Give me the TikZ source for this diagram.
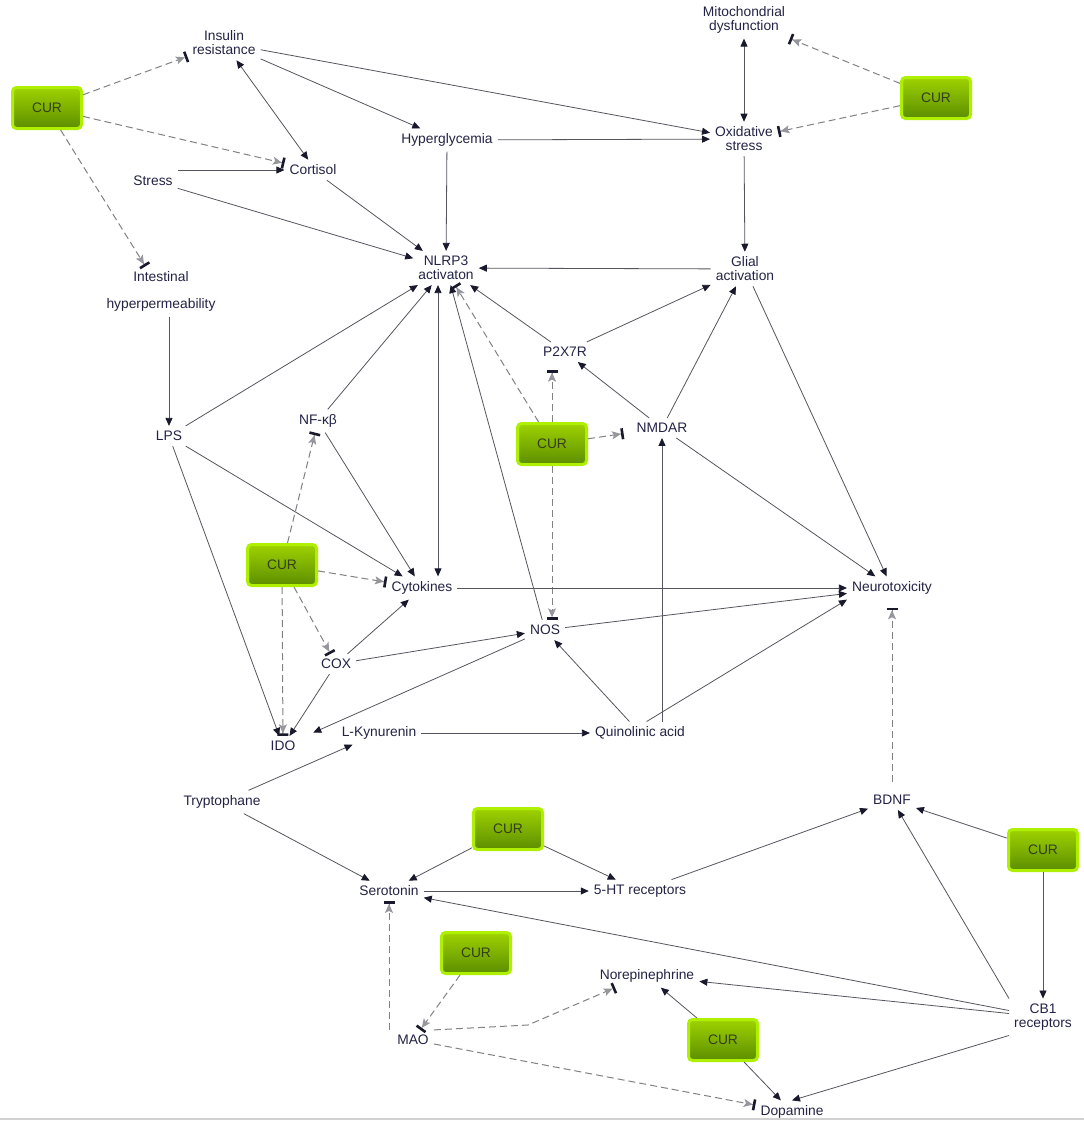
\documentclass[tikz,border=0pt]{standalone}
\usepackage{fontspec}
\setmainfont{Liberation Sans}
\usetikzlibrary{arrows.meta}
\definecolor{txt}{RGB}{35,35,70}
\definecolor{edgec}{RGB}{85,85,95}
\definecolor{tipc}{RGB}{25,25,45}
\definecolor{inhc}{RGB}{130,130,130}
\definecolor{inhtip}{RGB}{150,150,158}
\definecolor{curborder}{RGB}{175,240,0}
\definecolor{curtop}{RGB}{158,210,0}
\definecolor{curbot}{RGB}{92,142,0}
\definecolor{curtxt}{RGB}{52,62,28}
\begin{document}
\begin{tikzpicture}[x=1pt,y=-1pt,
  lbl/.style={font=\fontsize{13.8}{14}\selectfont, text=txt, align=center, inner sep=5pt},
  curbox/.style={draw=curborder, line width=3pt, rounded corners=4pt, top color=curtop, bottom color=curbot,
    minimum width=69pt, minimum height=41pt, inner sep=0pt, font=\fontsize{13.8}{14}\selectfont, text=curtxt},
  act/.style={draw=edgec, line width=0.8pt, -{Triangle[length=8pt,width=7pt,color=tipc]}},
  dbl/.style={draw=edgec, line width=0.8pt, {Triangle[length=8pt,width=7pt,color=tipc]}-{Triangle[length=8pt,width=7pt,color=tipc]}},
  inh/.style={draw=inhc, line width=1pt, dash pattern=on 7pt off 4pt,
    -{Stealth[length=9pt,width=8pt,inset=2pt,color=inhtip]Bar[width=11pt,line width=2.6pt,color=tipc]}},
]
\fill[white] (0,0) rectangle (1084,1125);
\useasboundingbox (0,0) rectangle (1084,1125);
\draw[black!18, line width=2pt] (0,1119) -- (1084,1119);

% CUR boxes
\node[curbox] (cur1) at (47,108) {CUR};
\node[curbox] (cur2) at (936,98) {CUR};
\node[curbox] (cur3) at (552,444) {CUR};
\node[curbox] (cur4) at (282,565) {CUR};
\node[curbox] (cur5) at (508,829) {CUR};
\node[curbox] (cur6) at (1043,850) {CUR};
\node[curbox] (cur7) at (476,953) {CUR};
\node[curbox] (cur8) at (723,1040) {CUR};

% labels
\node[lbl] (ins) at (224,43) {Insulin\\resistance};
\node[lbl] (mito) at (744,20) {Mitochondrial\\dysfunction};
\node[lbl] (hyp) at (447,140) {Hyperglycemia};
\node[lbl] (ox) at (744,139) {Oxidative\\stress};
\node[lbl] (cort) at (313,170) {Cortisol};
\node[lbl] (stress) at (153,181) {Stress};
\node[lbl] (nlrp) at (446,268) {NLRP3\\activaton};
\node[lbl] (glial) at (745,269) {Glial\\activation};
\node[lbl] (intest) at (161,291.5) {Intestinal\\[13pt]hyperpermeability};
\node[lbl] (p2x) at (565,352) {P2X7R};
\node[lbl] (nmdar) at (662,428) {NMDAR};
\node[lbl] (lps) at (169,436) {LPS};
\node[lbl] (nfkb) at (318,421) {NF-κβ};
\node[lbl] (cyto) at (422,588) {Cytokines};
\node[lbl] (neuro) at (892,588) {Neurotoxicity};
\node[lbl] (nos) at (545,630) {NOS};
\node[lbl] (cox) at (336,664) {COX};
\node[lbl] (ido) at (283,746) {IDO};
\node[lbl] (lkyn) at (379,733) {L-Kynurenin};
\node[lbl] (quin) at (640,733) {Quinolinic acid};
\node[lbl] (tryp) at (222,802) {Tryptophane};
\node[lbl] (bdnf) at (892,800) {BDNF};
\node[lbl] (sero) at (389,891) {Serotonin};
\node[lbl] (ht) at (640,891) {5-HT receptors};
\node[lbl] (nore) at (647,976) {Norepinephrine};
\node[lbl] (cb1) at (1043,1017) {CB1\\receptors};
\node[lbl] (mao) at (413,1040) {MAO};
\node[lbl] (dopa) at (792,1112) {Dopamine};
\coordinate (bend) at (528,1025);

% top region
\draw[inh] (cur1) -- (ins);
\draw[inh] (cur1) -- (cort);
\draw[inh] (cur1) -- (intest);
\draw[dbl] (ins) -- (cort.115);
\draw[act] (ins) -- (hyp);
\draw[act] (ins) -- (ox);
\draw[act] (hyp) -- (ox);
\draw[act] (hyp) -- (nlrp);
\draw[dbl] (mito) -- (ox);
\draw[inh] (cur2) -- (mito);
\draw[inh] (cur2) -- (ox);
\draw[act] (ox) -- (glial);
\draw[act] (stress.east |- cort.west) -- (cort.west);
\draw[act] (stress) -- (nlrp);
\draw[act] (cort) -- (nlrp);
\draw[act] (glial) -- (nlrp);
\draw[act] (lps |- intest.south) -- (lps);

% middle region
\draw[act] (lps) -- (nlrp);
\draw[act] (nfkb) -- (nlrp);
\draw[dbl] ([xshift=-8pt]nlrp.south) -- ([xshift=16pt]cyto.north);
\draw[act] (nos) -- (nlrp);
\draw[inh] (cur3) -- (nlrp.-62);
\draw[act] (p2x) -- (nlrp);
\draw[act] (p2x) -- (glial);
\draw[act] (nmdar) -- (p2x);
\draw[act] (nmdar) -- (glial);
\draw[inh, shorten >=8pt] (cur3.north) -- (cur3.north |- p2x.south);
\draw[inh, shorten >=8pt] (cur3) -- (nmdar);
\draw[inh] (cur3.south) -- (cur3.south |- nos.north);
\draw[act] (glial) -- (neuro);
\draw[act] (nmdar) -- (neuro);
\draw[act] (lps) -- (cyto);
\draw[act] (lps) -- (ido);
\draw[act] (nfkb) -- (cyto);
\draw[inh] (cur4) -- (nfkb);
\draw[inh] (cur4) -- (cyto);
\draw[inh] (cur4) -- (cox);
\draw[inh] (cur4) -- (ido);
\draw[act] (cyto) -- (neuro);
\draw[act] (cox) -- (cyto);
\draw[act] (cox) -- (nos);
\draw[act] (cox) -- (ido);
\draw[act, shorten >=14pt] (nos) -- (ido);
\draw[act] (nos) -- (neuro);
\draw[act] (quin) -- (nos);
\draw[act] (nmdar |- quin.north) -- (nmdar);
\draw[act] (quin.60) -- (neuro.south west);
\draw[act] (lkyn) -- (quin);

% lower region
\draw[act] (tryp) -- (lkyn);
\draw[act] (tryp) -- (sero);
\draw[act] (cur5) -- (sero);
\draw[act] (cur5) -- (ht);
\draw[act] (sero) -- (ht);
\draw[act] (ht) -- (bdnf);
\draw[inh, shorten <=8pt, shorten >=8pt] (bdnf) -- (neuro);
\draw[act] (cur6) -- (bdnf);
\draw[act] (cb1.north west) -- (bdnf);
\draw[act] (cur6) -- (cb1);
\draw[act] (cb1) -- (sero);
\draw[act] (cb1) -- (nore);
\draw[act] (cb1.south west) -- (dopa.north);
\draw[inh] (sero |- mao.north) -- (sero);
\draw[inh] (cur7) -- (mao);
\draw[inh] (mao.north east) -- (bend) -- (nore.200);
\draw[inh] (mao) -- (dopa);
\draw[act] (cur8) -- (nore);
\draw[act] (cur8) -- (dopa);
\end{tikzpicture}
\end{document}
